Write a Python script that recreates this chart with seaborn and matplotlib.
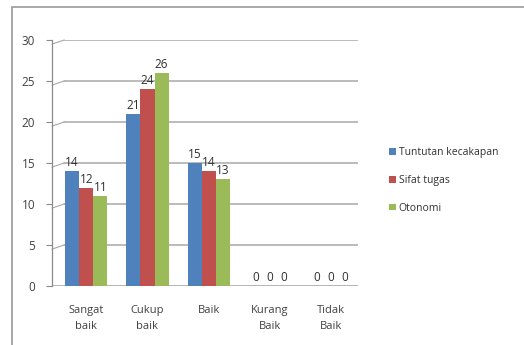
import matplotlib
matplotlib.use("Agg")
import matplotlib.pyplot as plt
import seaborn as sns
import pandas as pd
from matplotlib.patches import Rectangle, Patch

categories = ["Sangat\nbaik", "Cukup\nbaik", "Baik", "Kurang\nBaik", "Tidak\nBaik"]
series_names = ["Tuntutan kecakapan", "Sifat tugas", "Otonomi"]
tuntutan_kecakapan = [14, 21, 15, 0, 0]
sifat_tugas = [12, 24, 14, 0, 0]
otonomi = [11, 26, 13, 0, 0]
colors = ["#4F81BD", "#C0504D", "#9BBB59"]
y_ticks = [0, 5, 10, 15, 20, 25, 30]

df = pd.DataFrame({
    "kategori": categories * 3,
    "seri": [s for s in series_names for _ in categories],
    "nilai": tuntutan_kecakapan + sifat_tugas + otonomi,
})

sns.set_theme(style="white")
plt.rcParams["font.family"] = ["Open Sans", "DejaVu Sans"]

fig = plt.figure(figsize=(5.24, 3.45), dpi=100)
W, H = 524, 345

# outer chart frame
fig.patches.append(Rectangle((12 / W, -0.1), 1.2, 1 - 7 / H + 0.1,
                             transform=fig.transFigure, fill=False,
                             edgecolor="#9a9a9a", linewidth=1.2))

ax = fig.add_axes([52 / W, 1 - 286 / H, (358 - 52) / W, (286 - 40) / H])
sns.barplot(data=df, x="kategori", y="nilai", hue="seri", order=categories,
            hue_order=series_names, palette=colors, width=0.69, ax=ax,
            saturation=1, edgecolor="none", legend=False)

ax.set_ylim(0, 30)
ax.set_xlim(-0.56, 4.44)
ax.set_yticks(y_ticks)
ax.set_yticklabels([str(t) for t in y_ticks], fontsize=8.5, color="#404040")
ax.set_xlabel("")
ax.set_ylabel("")
ax.tick_params(axis="x", length=0, pad=14, labelsize=8, labelcolor="#404040")
ax.tick_params(axis="y", length=4, width=0.8, color="#8a8a8a", pad=8, left=True)
for lbl in ax.get_xticklabels():
    lbl.set_linespacing(1.6)

# gridlines on the back wall
for t in y_ticks[1:]:
    ax.axhline(t, xmin=0.04, xmax=1.0, color="#a8a8a8", linewidth=1.1, zorder=0)
    ax.plot([0, 0.04], [t - 0.5, t], transform=ax.get_yaxis_transform(),
            color="#a8a8a8", linewidth=0.8, clip_on=False, zorder=0)

for side in ["top", "right", "bottom"]:
    ax.spines[side].set_visible(False)
ax.spines["left"].set_color("#8a8a8a")
ax.spines["left"].set_linewidth(0.9)
ax.axhline(0, color="#a8a8a8", linewidth=1.2, zorder=0)

for cont in ax.containers:
    ax.bar_label(cont, fontsize=8.5, color="#303030", padding=1.5)

handles = [Patch(facecolor=c, edgecolor="none") for c in colors]
fig.legend(handles, series_names, loc="upper left",
           bbox_to_anchor=(380 / W, 1 - 138 / H), frameon=False,
           fontsize=7.5, handlelength=0.6, handleheight=0.6,
           handletextpad=0.3, labelspacing=1.6, labelcolor="#303030")

fig.savefig("out.png", dpi=100)
